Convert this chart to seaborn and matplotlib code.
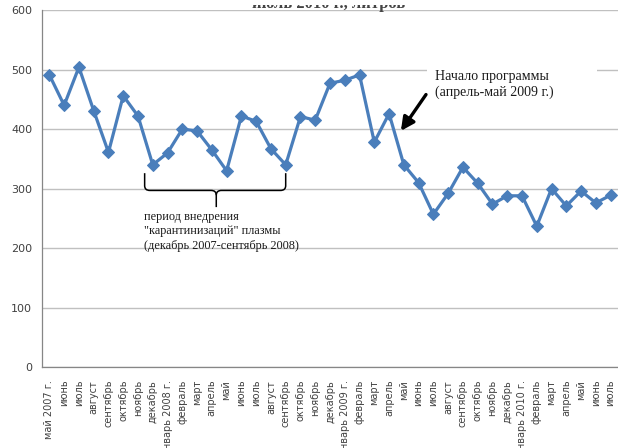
import numpy as np
import pandas as pd
import matplotlib
matplotlib.use("Agg")
import matplotlib.pyplot as plt
from matplotlib.path import Path
from matplotlib.patches import PathPatch, Rectangle
import seaborn as sns

# Monthly plasma volume, May 2007 - July 2010
months = [
    "май 2007 г.", "июнь", "июль", "август", "сентябрь", "октябрь", "ноябрь", "декабрь",
    "январь 2008 г.", "февраль", "март", "апрель", "май", "июнь", "июль", "август",
    "сентябрь", "октябрь", "ноябрь", "декабрь",
    "январь 2009 г.", "февраль", "март", "апрель", "май", "июнь", "июль", "август",
    "сентябрь", "октябрь", "ноябрь", "декабрь",
    "январь 2010 г.", "февраль", "март", "апрель", "май", "июнь", "июль",
]
volume = [
    491, 440, 504, 431, 361, 456, 422, 340,
    360, 400, 397, 365, 330, 422, 413, 367,
    340, 421, 415, 477,
    482, 491, 378, 426, 340, 310, 257, 292,
    336, 309, 274, 288,
    288, 237, 300, 271, 296, 276, 289,
]
y_ticks = [0, 100, 200, 300, 400, 500, 600]

df = pd.DataFrame({"pos": np.arange(len(months)), "volume": volume})

sns.set_style("white")
plt.rcParams["font.family"] = ["DejaVu Sans"]

fig = plt.figure(figsize=(6.18, 4.48), dpi=100)
ax = fig.add_axes([42 / 618, 1 - 367.3 / 448, (618 - 42) / 618, (367.3 - 10) / 448])

sns.lineplot(data=df, x="pos", y="volume", ax=ax, color="#4a7ebb", linewidth=2.3,
             marker="D", markersize=6, markeredgecolor="#4a7ebb", zorder=3)

ax.set_xlim(-0.5, len(months) - 0.5)
ax.set_ylim(0, 600)
ax.set_yticks(y_ticks)
ax.set_yticklabels([str(v) for v in y_ticks], fontsize=8, color="#404040")
ax.yaxis.grid(True, color="#c0c0c0", linewidth=1)
ax.set_axisbelow(True)

ax.set_xticks(np.arange(len(months)))
ax.set_xticklabels(months, rotation=90, fontsize=7.0, color="#404040", va="top")
ax.set_xticks(np.arange(len(months) + 1) - 0.5, minor=True)
ax.tick_params(axis="x", which="major", length=0, pad=9)
ax.tick_params(axis="x", which="minor", length=4, color="#868686", width=0.8, direction="out")
ax.tick_params(axis="y", length=3, color="#868686", width=0.8, direction="out", pad=4)
ax.set_xlabel("")
ax.set_ylabel("")

for side in ("top", "right"):
    ax.spines[side].set_visible(False)
for side in ("left", "bottom"):
    ax.spines[side].set_color("#868686")
    ax.spines[side].set_linewidth(0.9)

# Curly brace under the plasma quarantine period (Dec 2007 - Sep 2008)
xl, xr, xc = 6.45, 16.0, 11.3
yt, yh, ytip = 326, 297, 269
r = 0.35
verts = [
    (xl, yt), (xl, yh + 8), (xl, yh), (xl + r, yh),
    (xc - r, yh), (xc, yh), (xc, yh - 8), (xc, ytip),
]
codes = [Path.MOVETO, Path.LINETO, Path.CURVE3, Path.CURVE3,
         Path.LINETO, Path.CURVE3, Path.CURVE3, Path.LINETO]
ax.add_patch(PathPatch(Path(verts, codes), fill=False, lw=1.1, color="black", zorder=4))
verts_r = [
    (xr, yt), (xr, yh + 8), (xr, yh), (xr - r, yh),
    (xc + r, yh), (xc, yh), (xc, yh - 8),
]
codes_r = [Path.MOVETO, Path.LINETO, Path.CURVE3, Path.CURVE3,
           Path.LINETO, Path.CURVE3, Path.CURVE3]
ax.add_patch(PathPatch(Path(verts_r, codes_r), fill=False, lw=1.1, color="black", zorder=4))

ax.text(6.4, 263, "период внедрения\n\"карантинизаций\" плазмы\n(декабрь 2007-сентябрь 2008)",
        fontsize=8.8, family="Liberation Serif", va="top", ha="left", linespacing=1.3,
        color="#1a1a1a", zorder=5)

# Program start annotation on a white text box
ax.add_patch(Rectangle((25.6, 452), 11.5, 64, facecolor="white", edgecolor="none", zorder=1))
ax.text(26.1, 499, "Начало программы\n(апрель-май 2009 г.)", fontsize=10,
        family="Liberation Serif", va="top", ha="left", linespacing=1.25, color="#1a1a1a",
        zorder=5)
ax.annotate("", xy=(23.8, 397), xytext=(25.5, 458),
            arrowprops=dict(arrowstyle="-|>,head_length=0.8,head_width=0.4",
                            color="black", lw=2.4, shrinkA=0, shrinkB=0), zorder=5)

# Title line, only its lower edge shows on the canvas
fig.text(329 / 618, 1 - 7.5 / 448, "июль 2010 г., литров", ha="center", va="baseline",
         fontsize=12, family="Liberation Serif", weight="bold", color="#444444", zorder=1)
fig.add_artist(Rectangle((230 / 618, 1 - 5 / 448), 200 / 618, 5 / 448,
                         transform=fig.transFigure, facecolor="white",
                         edgecolor="none", zorder=10))

fig.savefig("out.png", dpi=100)
